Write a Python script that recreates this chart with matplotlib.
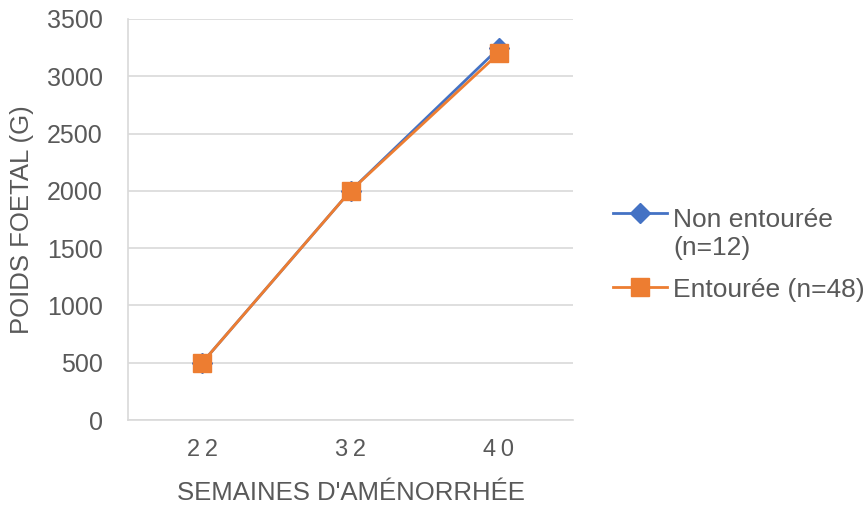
import matplotlib
matplotlib.use('Agg')
import matplotlib.pyplot as plt
from matplotlib.lines import Line2D

plt.rcParams['font.family'] = ['Liberation Sans', 'DejaVu Sans']

weeks = ['22', '32', '40']
non_entouree = [500, 2000, 3245]
entouree = [500, 2000, 3200]
yticks = [0, 500, 1000, 1500, 2000, 2500, 3000, 3500]
labels = ['Non entourée\n(n=12)', 'Entourée (n=48)']

blue = '#4472C4'
orange = '#ED7D31'
text_col = '#595959'
grid_col = '#D9D9D9'

W, H = 865, 507
fig = plt.figure(figsize=(W / 100, H / 100), dpi=100)
ax = fig.add_axes([128 / W, 1 - 420 / H, 445 / W, 401 / H])

x = list(range(len(weeks)))
ax.plot(x, non_entouree, color=blue, lw=2, marker='D', ms=10)
ax.plot(x, entouree, color=orange, lw=2, marker='s', ms=13)

ax.set_xlim(-0.5, 2.5)
ax.set_ylim(0, 3500)
ax.set_xticks(x)
# Excel spreads the category digits a little
ax.set_xticklabels(['\u2009'.join(w) for w in weeks], fontsize=17)
ax.set_yticks(yticks)
ax.tick_params(axis='y', labelsize=18, pad=18)
ax.tick_params(axis='x', pad=14)
ax.tick_params(length=0, colors=text_col)
ax.yaxis.grid(True, color=grid_col, lw=1.2)
ax.set_axisbelow(True)
for s in ['top', 'right']:
    ax.spines[s].set_visible(False)
for s in ['bottom', 'left']:
    ax.spines[s].set_color(grid_col)
    ax.spines[s].set_linewidth(1.2)

ax.set_xlabel("SEMAINES D'AMÉNORRHÉE", fontsize=18.5, color=text_col, labelpad=14)
ax.set_ylabel('POIDS FOETAL (G)', fontsize=18.5, color=text_col, labelpad=9)

# legend drawn by hand so the handle sits on the first text line
# (y of handle, y of the last text baseline), in pixels from the top
leg_items = [(blue, 'D', 10, 213, 255), (orange, 's', 13, 287, 297)]
for (col, mk, ms, yh, yt), lab in zip(leg_items, labels):
    fig.add_artist(Line2D([613 / W, 667 / W], [1 - yh / H, 1 - yh / H],
                          transform=fig.transFigure, color=col, lw=2))
    fig.add_artist(Line2D([640 / W], [1 - yh / H], transform=fig.transFigure,
                          color=col, marker=mk, ms=ms, lw=0))
    fig.text(673 / W, 1 - yt / H, lab, fontsize=19, color=text_col,
             va='baseline', linespacing=1.2)

fig.savefig('out.png', dpi=100)
